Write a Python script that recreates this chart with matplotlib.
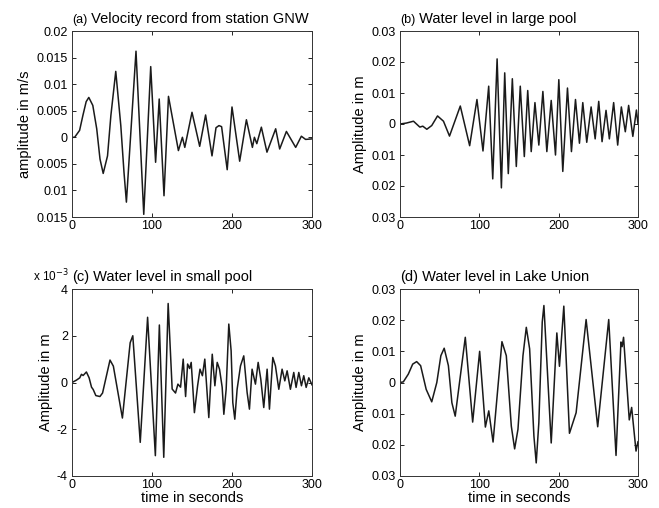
import matplotlib.pyplot as plt
import numpy as np

plt.rcParams['font.family'] = ['Liberation Sans', 'DejaVu Sans']

# (a) ground velocity at GNW, m/s
t_vel = [0, 3.3, 9.5, 13.6, 17.7, 21, 26, 30.9, 35, 39, 44.4, 48.6, 54.7, 61, 65, 68,
         80, 89.7, 98.4, 104.5, 109, 115, 120.6, 133, 138, 141, 150, 159.6, 167, 175,
         180, 183.7, 187, 194, 200, 209.6, 218, 225.5, 228, 231, 236.7, 243.7, 254.6,
         259.6, 268, 279.6, 286.7, 292, 300]
v_vel = [0, 0, 0.0013, 0.0041, 0.0067, 0.0075, 0.006, 0.0016, -0.0041, -0.0068, -0.0035,
         0.0041, 0.0124, 0.0022, -0.0066, -0.0122, 0.0162, -0.0145, 0.0133, -0.0047,
         0.0072, -0.011, 0.0077, -0.0025, 0, -0.0019, 0.0047, -0.0017, 0.0042, -0.0035,
         0.0018, 0.0022, 0.002, -0.0061, 0.0057, -0.0045, 0.0033, -0.0019, 0, -0.0012,
         0.0019, -0.0028, 0.0016, -0.0022, 0.0011, -0.0019, 0.0002, -0.0004, -0.0003]

# (b) large pool water level, m
t_large = [0, 8, 17, 25, 28.7, 33.8, 40, 47.3, 54.8, 62.4, 76, 87.8, 97, 104.6, 111.8,
           116.9, 122.4, 127.8, 132, 136.5, 141.6, 146.6, 151.6, 156.7, 161, 165.4, 170.1,
           175, 180.1, 185.1, 190.6, 196, 200.2, 205.2, 211.1, 216.1, 221.2, 226.2, 230.4,
           235.4, 240.9, 246, 250.5, 254.7, 259.7, 263.9, 269.3, 274.4, 279, 284, 288.2,
           293.5, 298, 300]
h_large = [0, 0.0003, 0.0009, -0.001, -0.0007, -0.0017, -0.0005, 0.0026, 0.0009, -0.0039,
           0.0058, -0.007, 0.0079, -0.0087, 0.0122, -0.0177, 0.021, -0.0206, 0.0165, -0.016,
           0.0146, -0.0137, 0.0122, -0.0105, 0.0108, -0.0089, 0.0069, -0.0068, 0.0105,
           -0.0089, 0.0076, -0.01, 0.0143, -0.0153, 0.0116, -0.0089, 0.0079, -0.0062, 0.0069,
           -0.0059, 0.0055, -0.0048, 0.0073, -0.0057, 0.0044, -0.0048, 0.0069, -0.0068,
           0.0055, -0.0025, 0.006, -0.004, 0.0045, 0.0]

# (c) small pool water level, 1e-3 m
t_small = [0, 5.5, 9.7, 11.8, 13.9, 18, 21.4, 24.4, 26.5, 29.8, 34.9, 38.2, 47.5, 51.7, 63,
           72.7, 76, 85.3, 94.5, 104.2, 109.2, 114.7, 120.2, 125.2, 129.4, 132.4, 135.7, 139,
           142, 144.5, 147, 149, 153, 157, 160, 163, 166, 171, 175.3, 178.6, 181.5, 184.4,
           187.7, 189.8, 192.7, 196, 198.9, 201, 203.5, 206.4, 210.6, 214.7, 218.9, 221.8,
           225.1, 229.3, 232.7, 236, 239.7, 243.9, 246.8, 251, 254.3, 258.5, 262.6, 266,
           268.9, 273, 277.2, 280.1, 283.5, 286.8, 289.7, 292.7, 296, 300]
h_small = [0, 0.1, 0.2, 0.35, 0.3, 0.45, 0.2, -0.2, -0.3, -0.56, -0.6, -0.45, 0.96, 0.7,
           -1.52, 1.7, 2.0, -2.56, 2.79, -3.13, 2.46, -3.2, 3.38, -0.28, -0.45, -0.07, -0.2,
           1.0, -0.6, 0.79, 0.6, 0.86, -1.29, -0.14, 0.57, 0.29, 1.0, -1.5, 1.21, -0.14,
           0.86, 0.57, -0.2, -1.36, -0.29, 2.5, 1.36, -0.86, -1.57, -0.29, 0.71, 1.14, -0.43,
           -1.14, 0.57, -0.07, 0.86, 0.14, -1.07, 0.57, -1.14, 1.07, 0.71, -0.29, 0.57, 0.07,
           0.5, -0.29, 0.43, -0.21, 0.43, -0.14, 0.29, -0.21, 0.2, -0.1]

# (d) Lake Union water level, m
t_lake = [0, 4.2, 10.5, 16, 21, 26, 33, 40, 46.4, 51.5, 55.7, 61, 65.4, 69.6, 82.3, 91.6,
          100.4, 107.6, 111.9, 117.3, 128.5, 134, 140.3, 144.5, 148.7, 155, 159.2, 163.4,
          168.8, 171.7, 175, 179.3, 181.4, 190.6, 197.7, 201, 206.5, 213.6, 222, 234.6,
          249.2, 263.1, 272.3, 278.5, 280, 281.8, 289, 292, 297.5, 300]
h_lake = [0, 0.0002, 0.0027, 0.0059, 0.0067, 0.0054, -0.0022, -0.0062, 0, 0.0086, 0.011,
          0.0054, -0.0065, -0.0108, 0.0145, -0.0127, 0.01, -0.0143, -0.0091, -0.0191, 0.0131,
          0.0086, -0.014, -0.0213, -0.015, 0.0086, 0.0177, 0.0108, -0.0172, -0.0258, -0.0129,
          0.0194, 0.0247, -0.0194, 0.0159, 0.0052, 0.0245, -0.0163, -0.0097, 0.0202, -0.0142,
          0.0202, -0.0234, 0.013, 0.0115, 0.0145, -0.012, -0.008, -0.022, -0.019]

xticks = [0, 100, 200, 300]
yticks_vel = [-0.015, -0.01, -0.005, 0, 0.005, 0.01, 0.015, 0.02]
ylabels_vel = ['0.015', '0.01', '0.005', '0', '0.005', '0.01', '0.015', '0.02']
yticks_m = [-0.03, -0.02, -0.01, 0, 0.01, 0.02, 0.03]
ylabels_m = ['0.03', '0.02', '0.01', '0', '0.01', '0.02', '0.03']
yticks_mm = [-4, -2, 0, 2, 4]
ylabels_mm = ['-4', '-2', '0', '2', '4']

W, H = 659, 508
fig = plt.figure(figsize=(W / 100, H / 100), dpi=100)


def make_axes(x0, x1, y0, y1):
    return fig.add_axes([x0 / W, 1 - y1 / H, (x1 - x0) / W, (y1 - y0) / H])


ax_a = make_axes(72, 312, 31, 217)
ax_b = make_axes(400, 638, 31, 217)
ax_c = make_axes(72, 312, 289, 476)
ax_d = make_axes(400, 638, 289, 476)

panels = [
    (ax_a, t_vel, v_vel, yticks_vel, ylabels_vel, 'amplitude in m/s',
     '(a)', 'Velocity record from station GNW', 9.0),
    (ax_b, t_large, h_large, yticks_m, ylabels_m, 'Amplitude in m',
     '(b)', 'Water level in large pool', 9.0),
    (ax_c, t_small, h_small, yticks_mm, ylabels_mm, 'Amplitude in m',
     '(c)', 'Water level in small pool', 10.5),
    (ax_d, t_lake, h_lake, yticks_m, ylabels_m, 'Amplitude in m',
     '(d)', 'Water level in Lake Union', 10.5),
]

for ax, t, y, yt, yl, ylab, tag, title, tagsize in panels:
    ax.plot(t, y, color='#1a1a1a', lw=1.1)
    ax.set_xlim(0, 300)
    ax.set_ylim(yt[0], yt[-1])
    ax.set_xticks(xticks)
    ax.set_yticks(yt)
    ax.set_yticklabels(yl)
    ax.tick_params(direction='in', length=3, width=0.6, labelsize=9,
                   top=True, right=True, pad=3)
    ax.tick_params(axis='x', pad=2)
    for s in ax.spines.values():
        s.set_linewidth(0.7)
        s.set_color('#333333')
    ax.set_ylabel(ylab, fontsize=10.5, labelpad=3)
    tag_txt = ax.text(0.0, 1.025, tag, transform=ax.transAxes, fontsize=tagsize,
                      ha='left', va='bottom')
    ax.annotate(' ' + title, xy=(1, 0), xycoords=tag_txt, fontsize=10.5,
                ha='left', va='bottom')

ax_c.set_xlabel('time in seconds', fontsize=10.5, labelpad=0)
ax_d.set_xlabel('time in seconds', fontsize=10.5, labelpad=0)
ax_c.text(-0.015, 1.025, r'x 10$^{-3}$', transform=ax_c.transAxes, fontsize=8.5,
          ha='right', va='bottom')

fig.savefig('out.png', dpi=100)
